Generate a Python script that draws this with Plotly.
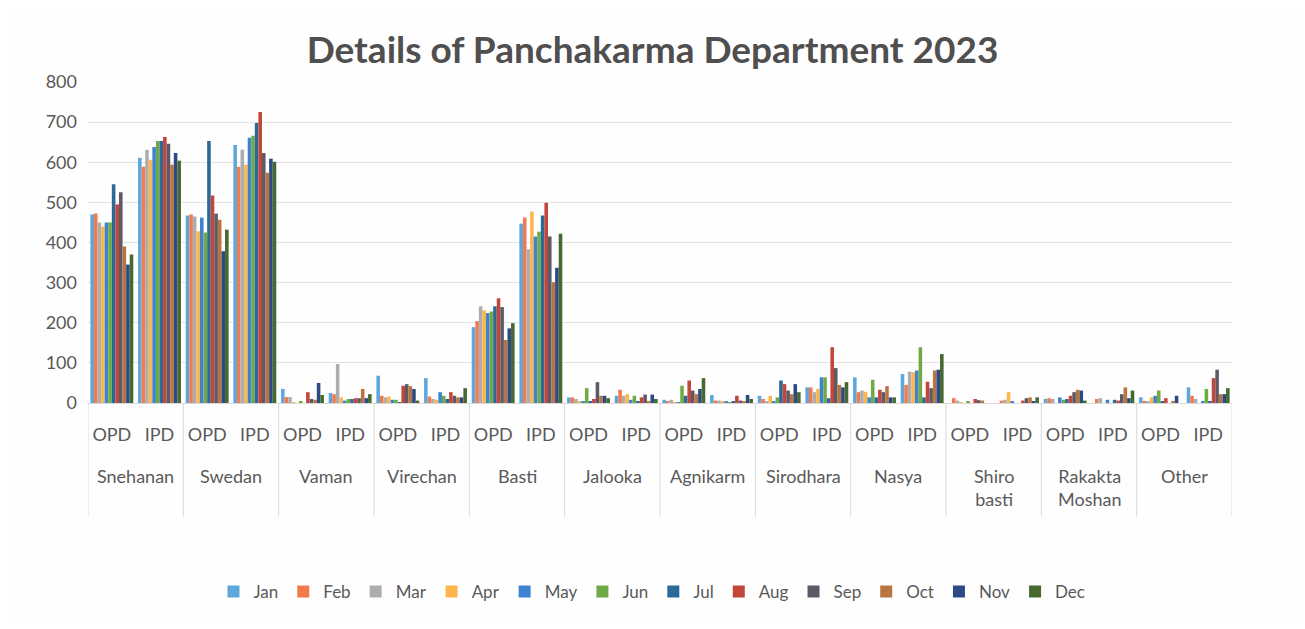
import plotly.graph_objects as go

procedures = ["Snehanan", "Swedan", "Vaman", "Virechan", "Basti", "Jalooka",
              "Agnikarm", "Sirodhara", "Nasya", "Shiro<br>basti", "Rakakta<br>Moshan", "Other"]
types = ["OPD", "IPD"]
months = ["Jan", "Feb", "Mar", "Apr", "May", "Jun", "Jul", "Aug", "Sep", "Oct", "Nov", "Dec"]

# values per month, across the 24 categories (procedure x OPD/IPD)
jan = [470, 611, 467, 643, 35, 25, 68, 62, 189, 447, 14, 18, 8, 20, 18, 39, 64, 72, 0, 0, 10, 0, 14, 39]
feb = [472, 589, 470, 589, 15, 22, 18, 16, 204, 462, 14, 33, 3, 6, 10, 39, 27, 45, 12, 6, 12, 10, 3, 18]
mar = [450, 631, 465, 631, 15, 97, 14, 10, 241, 383, 10, 18, 8, 6, 5, 27, 31, 78, 6, 8, 10, 12, 5, 10]
apr = [440, 606, 428, 594, 2, 14, 16, 8, 231, 477, 3, 22, 2, 5, 18, 35, 28, 77, 2, 27, 0, 0, 14, 0]
may = [450, 638, 462, 661, 0, 6, 8, 27, 224, 415, 3, 8, 2, 3, 5, 64, 14, 81, 0, 3, 14, 8, 18, 3]
jun = [450, 653, 425, 666, 3, 10, 8, 18, 228, 427, 37, 18, 43, 2, 14, 64, 58, 139, 5, 0, 8, 0, 31, 35]
jul = [545, 653, 653, 698, 0, 10, 2, 10, 241, 467, 3, 3, 18, 3, 56, 12, 14, 14, 0, 0, 10, 8, 5, 3]
aug = [495, 663, 517, 725, 27, 12, 43, 27, 261, 499, 10, 14, 56, 18, 47, 139, 33, 53, 10, 6, 18, 6, 12, 62]
sep = [525, 646, 472, 623, 10, 12, 47, 18, 239, 415, 52, 21, 31, 6, 31, 87, 27, 37, 7, 12, 27, 22, 0, 83]
oct_ = [390, 594, 457, 574, 8, 35, 42, 14, 157, 301, 18, 5, 22, 5, 22, 45, 42, 81, 6, 14, 33, 39, 3, 22]
nov = [345, 623, 378, 609, 50, 12, 35, 14, 186, 337, 18, 21, 35, 20, 47, 39, 14, 83, 0, 3, 31, 12, 18, 22]
dec = [370, 604, 432, 601, 20, 22, 6, 37, 199, 422, 12, 10, 62, 10, 27, 52, 14, 122, 0, 14, 6, 31, 0, 37]

series = [jan, feb, mar, apr, may, jun, jul, aug, sep, oct_, nov, dec]
colors = ["#5DA7DC", "#F27B4E", "#ADADB0", "#FDB64E", "#3E83D0", "#6FAA47",
          "#2B6A98", "#C2463A", "#5E5966", "#B9753F", "#2C4A83", "#46692F"]

cat_ids = [f"{p}|{t}" for p in procedures for t in types]
tick_text = [t for p in procedures for t in types]

font_family = "Lato, 'Open Sans', sans-serif"
text_color = "#595959"

fig = go.Figure()
for name, vals, col in zip(months, series, colors):
    fig.add_trace(go.Bar(x=cat_ids, y=vals, name=name, marker_color=col,
                         marker_line_width=0))

shapes = []
for i in range(len(procedures) + 1):
    shapes.append(dict(type="line", xref="x", yref="paper",
                       x0=2 * i - 0.5, x1=2 * i - 0.5, y0=0, y1=-0.354,
                       line=dict(color="#D9D9D9", width=1)))

annotations = []
for i, p in enumerate(procedures):
    annotations.append(dict(x=2 * i + 0.5, y=0, xref="x", yref="paper",
                            text=p, showarrow=False, yanchor="top", yshift=-60,
                            font=dict(family=font_family, size=18, color=text_color),
                            align="center"))

fig.update_layout(
    width=1289, height=613,
    paper_bgcolor="#FFFEFE", plot_bgcolor="#FFFEFE",
    margin=dict(l=80, r=65, t=74, b=217),
    barmode="group", bargap=0.1, bargroupgap=0,
    title=dict(text="<b>Details of Panchakarma Department 2023</b>",
               x=0.5, xanchor="center", y=1 - 42 / 613, yanchor="middle",
               font=dict(family=font_family, size=37, color="#4F4F4F")),
    font=dict(family=font_family, size=18, color=text_color),
    xaxis=dict(type="category", tickmode="array", tickvals=cat_ids, ticktext=tick_text,
               showgrid=False, showline=True, linecolor="#D9D9D9", ticks="",
               ticklabelstandoff=15, tickfont=dict(size=18, color=text_color),
               range=[-0.5, len(cat_ids) - 0.5]),
    yaxis=dict(range=[0, 800], dtick=100, showgrid=True, gridcolor="#E3E3E3",
               zeroline=False, showline=False, ticks="",
               tickfont=dict(size=18, color=text_color), ticklabelstandoff=10),
    legend=dict(orientation="h", x=0.493, xanchor="center", y=-0.584, yanchor="middle",
                font=dict(size=17, color=text_color), itemwidth=30,
                traceorder="normal"),
    shapes=shapes, annotations=annotations,
)

fig.write_html("out.html")
